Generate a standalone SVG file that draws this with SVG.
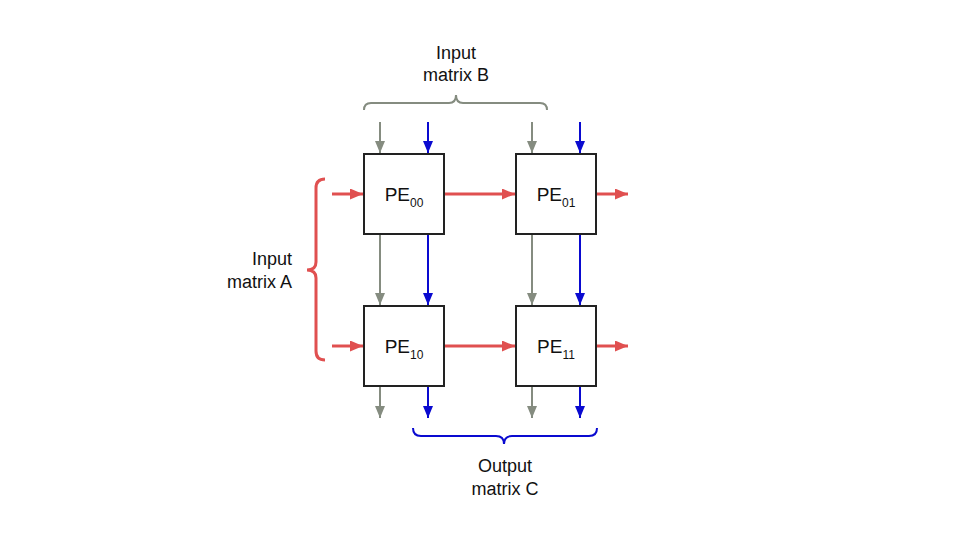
<svg xmlns="http://www.w3.org/2000/svg" width="960" height="540" viewBox="0 0 960 540">
<style>
.box{fill:#fff;stroke:#222;stroke-width:2}
.pe{font-family:"Liberation Sans",Arial,sans-serif;font-size:19px;fill:#111;text-anchor:middle}
.sub{font-size:12px}
.lbl{font-family:"Liberation Sans",Arial,sans-serif;font-size:18px;fill:#111}
.r{stroke:#e05050;stroke-width:3;fill:none}
.g{stroke:#858c80;stroke-width:2;fill:none}
.b{stroke:#0a0ad0;stroke-width:2;fill:none}
</style>
<defs>
<marker id="mr" markerWidth="13" markerHeight="11" refX="13" refY="5.5" orient="auto" markerUnits="userSpaceOnUse"><path d="M0,0 L13,5.5 L0,11 z" fill="#e05050"/></marker>
<marker id="mg" markerWidth="12" markerHeight="10" refX="12" refY="5" orient="auto" markerUnits="userSpaceOnUse"><path d="M0,0 L12,5 L0,10 z" fill="#858c80"/></marker>
<marker id="mb" markerWidth="12" markerHeight="10" refX="12" refY="5" orient="auto" markerUnits="userSpaceOnUse"><path d="M0,0 L12,5 L0,10 z" fill="#0a0ad0"/></marker>
</defs>
<rect width="960" height="540" fill="#fff"/>
<g id="connectors">
<line class="r" x1="332" y1="194" x2="363" y2="194" marker-end="url(#mr)"/>
<line class="r" x1="445" y1="194" x2="515" y2="194" marker-end="url(#mr)"/>
<line class="r" x1="597" y1="194" x2="628" y2="194" marker-end="url(#mr)"/>
<line class="r" x1="332" y1="346" x2="363" y2="346" marker-end="url(#mr)"/>
<line class="r" x1="445" y1="346" x2="515" y2="346" marker-end="url(#mr)"/>
<line class="r" x1="597" y1="346" x2="628" y2="346" marker-end="url(#mr)"/>
<line class="g" x1="380" y1="122" x2="380" y2="153" marker-end="url(#mg)"/>
<line class="g" x1="532" y1="122" x2="532" y2="153" marker-end="url(#mg)"/>
<line class="g" x1="380" y1="235" x2="380" y2="305" marker-end="url(#mg)"/>
<line class="g" x1="532" y1="235" x2="532" y2="305" marker-end="url(#mg)"/>
<line class="g" x1="380" y1="387" x2="380" y2="418" marker-end="url(#mg)"/>
<line class="g" x1="532" y1="387" x2="532" y2="418" marker-end="url(#mg)"/>
<line class="b" x1="428" y1="122" x2="428" y2="153" marker-end="url(#mb)"/>
<line class="b" x1="580" y1="122" x2="580" y2="153" marker-end="url(#mb)"/>
<line class="b" x1="428" y1="235" x2="428" y2="305" marker-end="url(#mb)"/>
<line class="b" x1="580" y1="235" x2="580" y2="305" marker-end="url(#mb)"/>
<line class="b" x1="428" y1="387" x2="428" y2="418" marker-end="url(#mb)"/>
<line class="b" x1="580" y1="387" x2="580" y2="418" marker-end="url(#mb)"/>
</g>
<g id="braceB">
<path class="g" d="M364,110 Q364,103 371,103 L449,103 Q456,103 456,95 Q456,103 463,103 L540,103 Q547,103 547,110"/>
<text class="lbl" x="456" y="59" text-anchor="middle">Input</text>
<text class="lbl" x="456" y="81" text-anchor="middle">matrix B</text>
</g>
<g id="braceA">
<path class="r" d="M325,179 Q316,179 316,188 L316,262 Q316,270 307,270 Q316,270 316,278 L316,351 Q316,360 325,360"/>
<text class="lbl" x="292" y="265" text-anchor="end">Input</text>
<text class="lbl" x="292" y="288" text-anchor="end">matrix A</text>
</g>
<g id="braceC">
<path class="b" d="M413,428 Q413,436 421,436 L496,436 Q504,436 504,444 Q504,436 512,436 L589,436 Q597,436 597,428"/>
<text class="lbl" x="505" y="472" text-anchor="middle">Output</text>
<text class="lbl" x="505" y="495" text-anchor="middle">matrix C</text>
</g>
<g id="PE00"><rect class="box" x="364" y="154" width="80" height="80"/><text class="pe" x="404" y="201">PE<tspan class="sub" dy="6">00</tspan></text></g>
<g id="PE01"><rect class="box" x="516" y="154" width="80" height="80"/><text class="pe" x="556" y="201">PE<tspan class="sub" dy="6">01</tspan></text></g>
<g id="PE10"><rect class="box" x="364" y="306" width="80" height="80"/><text class="pe" x="404" y="353">PE<tspan class="sub" dy="6">10</tspan></text></g>
<g id="PE11"><rect class="box" x="516" y="306" width="80" height="80"/><text class="pe" x="556" y="353">PE<tspan class="sub" dy="6">11</tspan></text></g>
</svg>
